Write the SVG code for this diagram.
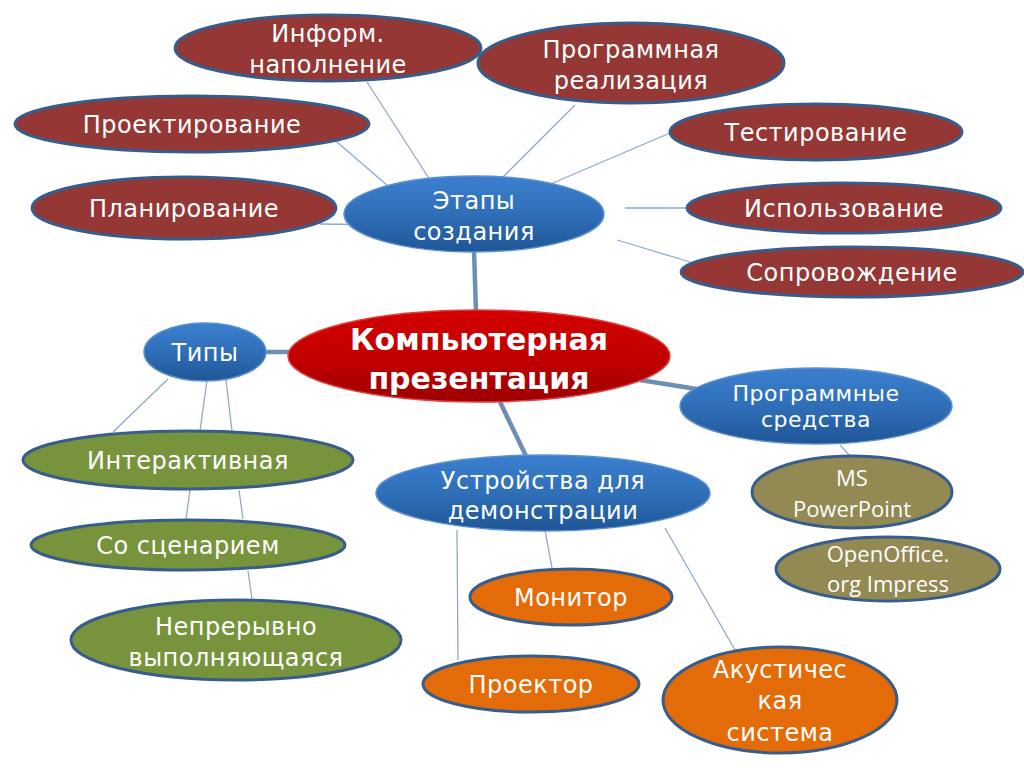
<svg xmlns="http://www.w3.org/2000/svg" width="1024" height="768" viewBox="0 0 1024 768">
<defs>
<linearGradient id="gBlue" x1="0" y1="0" x2="0" y2="1">
<stop offset="0" stop-color="#3a7fcf"/>
<stop offset="0.5" stop-color="#2f6fb8"/>
<stop offset="1" stop-color="#1f5596"/>
</linearGradient>
<linearGradient id="gRed" x1="0" y1="0" x2="0" y2="1">
<stop offset="0" stop-color="#d40000"/>
<stop offset="0.55" stop-color="#c00000"/>
<stop offset="1" stop-color="#9c0000"/>
</linearGradient>
<style>
.stage{fill:#953735;stroke:#385d8a;stroke-width:3}
.blue{fill:url(#gBlue);stroke:#5b8fd0;stroke-width:1.5}
.center{fill:url(#gRed);stroke:#e04040;stroke-width:1.5}
.green{fill:#77933c;stroke:#385d8a;stroke-width:3}
.olive{fill:#938953;stroke:#385d8a;stroke-width:3}
.orange{fill:#e36c09;stroke:#385d8a;stroke-width:3}
text{font-family:"DejaVu Sans","Liberation Sans",sans-serif;fill:#ffffff;text-anchor:middle;font-size:24px;letter-spacing:0.5px}
.bold{font-weight:bold;font-size:30px;letter-spacing:0}
.cal{font-family:"Open Sans","Liberation Sans",sans-serif;font-size:22px;letter-spacing:0}
.small{font-size:22px}
.thin{stroke:#8ea9cc;stroke-width:1.3;fill:none}
.thick{stroke:#6e8fb5;stroke-width:4.5;fill:none}
</style>
</defs>
<rect width="1024" height="768" fill="#ffffff"/>
<g id="connectors">
<line class="thin" x1="367" y1="82" x2="430" y2="180"/>
<line class="thin" x1="575" y1="105" x2="500" y2="180"/>
<line class="thin" x1="330" y1="136" x2="388" y2="186"/>
<line class="thin" x1="320" y1="224" x2="395" y2="225"/>
<line class="thin" x1="670" y1="133" x2="553" y2="183"/>
<line class="thin" x1="625" y1="208" x2="686" y2="208"/>
<line class="thin" x1="617" y1="240" x2="690" y2="262"/>
<line class="thick" x1="474" y1="250" x2="476" y2="312"/>
<line class="thick" x1="264" y1="352" x2="292" y2="352"/>
<line class="thick" x1="640" y1="380" x2="697" y2="389"/>
<line class="thick" x1="500" y1="402" x2="527" y2="458"/>
<line class="thin" x1="168" y1="379" x2="113" y2="432"/>
<line class="thin" x1="207" y1="380" x2="200" y2="431"/>
<line class="thin" x1="226" y1="380" x2="232" y2="431"/>
<line class="thin" x1="190" y1="490" x2="186" y2="519"/>
<line class="thin" x1="239" y1="490" x2="243" y2="519"/>
<line class="thin" x1="248" y1="571" x2="252" y2="599"/>
<line class="thin" x1="840" y1="445" x2="850" y2="456"/>
<line class="thin" x1="457" y1="530" x2="458" y2="660"/>
<line class="thin" x1="545" y1="530" x2="552" y2="568"/>
<line class="thin" x1="665" y1="528" x2="735" y2="650"/>
</g>
<g id="n-inform"><ellipse class="stage" cx="328" cy="48" rx="153" ry="33"/><text x="328" y="42">Информ.</text><text x="328" y="73">наполнение</text></g>
<g id="n-program"><ellipse class="stage" cx="631" cy="63" rx="153" ry="40"/><text x="631" y="58">Программная</text><text x="631" y="89">реализация</text></g>
<g id="n-proekt"><ellipse class="stage" cx="192" cy="124" rx="177" ry="28"/><text x="192" y="133">Проектирование</text></g>
<g id="n-plan"><ellipse class="stage" cx="184" cy="208" rx="152" ry="31"/><text x="184" y="217">Планирование</text></g>
<g id="n-test"><ellipse class="stage" cx="816" cy="132" rx="146" ry="28"/><text x="816" y="141">Тестирование</text></g>
<g id="n-use"><ellipse class="stage" cx="844" cy="208" rx="157" ry="25"/><text x="844" y="217">Использование</text></g>
<g id="n-support"><ellipse class="stage" cx="852" cy="272" rx="171" ry="25"/><text x="852" y="281">Сопровождение</text></g>
<g id="n-etapy"><ellipse class="blue" cx="474" cy="214" rx="130" ry="38"/><text x="474" y="209">Этапы</text><text x="474" y="240">создания</text></g>
<g id="n-center"><ellipse class="center" cx="479" cy="356" rx="191" ry="46"/><text class="bold" x="479" y="350">Компьютерная</text><text class="bold" x="479" y="389">презентация</text></g>
<g id="n-types"><ellipse class="blue" cx="205" cy="352" rx="61" ry="29"/><text x="205" y="361">Типы</text></g>
<g id="n-soft"><ellipse class="blue" cx="816" cy="406" rx="136" ry="38"/><text class="small" x="816" y="401">Программные</text><text class="small" x="816" y="427">средства</text></g>
<g id="n-devices"><ellipse class="blue" cx="543" cy="493" rx="167" ry="38"/><text x="543" y="489">Устройства для</text><text x="543" y="519">демонстрации</text></g>
<g id="n-inter"><ellipse class="green" cx="188" cy="460" rx="165" ry="29"/><text x="188" y="469">Интерактивная</text></g>
<g id="n-scen"><ellipse class="green" cx="188" cy="545" rx="157" ry="25"/><text x="188" y="554">Со сценарием</text></g>
<g id="n-cont"><ellipse class="green" cx="236" cy="640" rx="165" ry="40"/><text x="236" y="635">Непрерывно</text><text x="236" y="666">выполняющаяся</text></g>
<g id="n-msppt"><ellipse class="olive" cx="852" cy="492" rx="100" ry="36"/><text class="cal" x="852" y="486">MS</text><text class="cal" x="852" y="517">PowerPoint</text></g>
<g id="n-oo"><ellipse class="olive" cx="888" cy="569" rx="112" ry="32"/><text class="cal" x="888" y="562">OpenOffice.</text><text class="cal" x="888" y="592">org Impress</text></g>
<g id="n-monitor"><ellipse class="orange" cx="571" cy="597" rx="101" ry="28"/><text x="571" y="606">Монитор</text></g>
<g id="n-proj"><ellipse class="orange" cx="531" cy="684" rx="108" ry="28"/><text x="531" y="693">Проектор</text></g>
<g id="n-acoustic"><ellipse class="orange" cx="780" cy="700" rx="117" ry="53"/><text x="780" y="678">Акустичес</text><text x="780" y="709">кая</text><text x="780" y="741">система</text></g>
</svg>
